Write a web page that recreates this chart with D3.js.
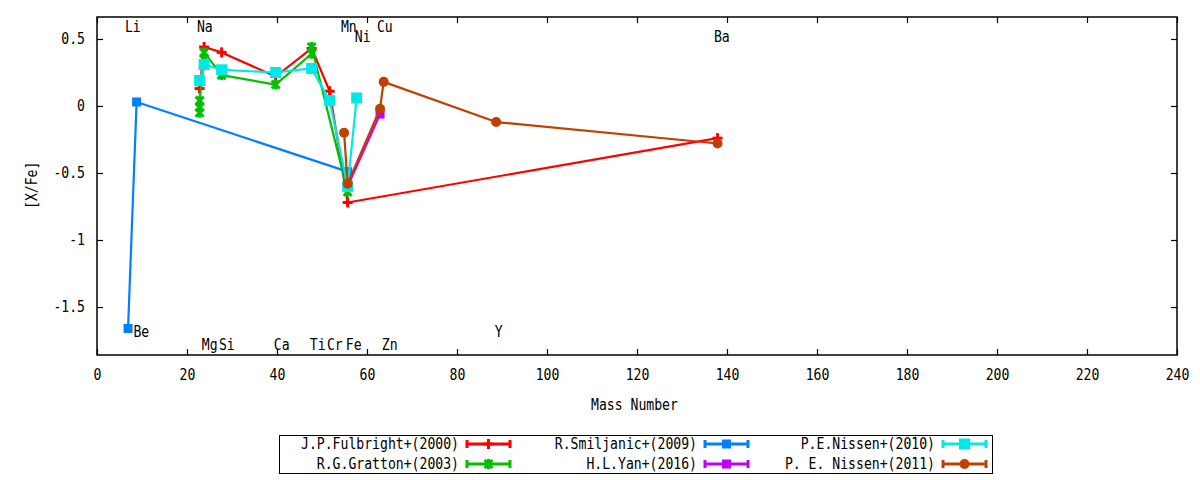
<!DOCTYPE html>
<html>
<head>
<meta charset="utf-8">
<script src="https://cdn.jsdelivr.net/npm/d3@7"></script>
<style>
  body { margin: 0; background: #fff; }
  svg text { font-family: "DejaVu Sans Mono", monospace; font-size: 15px; fill: #000; }
</style>
</head>
<body>
<div id="chart"></div>
<script>
// element masses and [X/Fe]
const fulbrightMass = [22.8, 23.8, 27.7, 39.7, 47.7, 51.7, 55.7, 137.9];
const fulbrightVal  = [0.13, 0.44, 0.40, 0.22, 0.43, 0.11, -0.72, -0.24];

const grattonMass = [22.8, 22.8, 22.8, 23.8, 23.8, 27.7, 39.7, 47.7, 47.7, 55.7];
const grattonVal  = [-0.05, -0.01, 0.04, 0.35, 0.40, 0.23, 0.16, 0.39, 0.44, -0.64];

const smiljanicMass = [6.9, 8.8, 55.7];
const smiljanicVal  = [-1.66, 0.03, -0.49];

const yanMass = [55.7, 62.9];
const yanVal  = [-0.60, -0.06];

const nissen10Mass = [22.8, 23.8, 27.7, 39.7, 47.7, 51.7, 55.7, 57.7];
const nissen10Val  = [0.19, 0.31, 0.27, 0.25, 0.28, 0.04, -0.60, 0.06];

const nissen11Mass = [54.9, 55.7, 62.9, 63.7, 88.7, 137.9];
const nissen11Val  = [-0.20, -0.58, -0.02, 0.18, -0.12, -0.28];

const seriesNames = ["J.P.Fulbright+(2000)", "R.G.Gratton+(2003)", "R.Smiljanic+(2009)",
                     "H.L.Yan+(2016)", "P.E.Nissen+(2010)", "P. E. Nissen+(2011)"];

const elemNames = ["Li", "Be", "Na", "Mg", "Si", "Ca", "Ti", "Cr", "Mn", "Fe", "Ni", "Cu", "Zn", "Y", "Ba"];
const elemX     = [6.2, 8.1, 22.2, 23.3, 27.1, 39.3, 47.3, 51.1, 54.2, 55.3, 57.3, 62.2, 63.3, 88.4, 137.1];
const elemY     = [0.59, -1.68, 0.59, -1.78, -1.78, -1.78, -1.78, -1.78, 0.59, -1.78, 0.515, 0.59, -1.78, -1.68, 0.515];

const xTicks = [0, 20, 40, 60, 80, 100, 120, 140, 160, 180, 200, 220, 240];
const yTicks = [0.5, 0, -0.5, -1, -1.5];

const series = [
  { name: seriesNames[0], xs: fulbrightMass, ys: fulbrightVal, color: "#ff0000", mark: "plus" },
  { name: seriesNames[1], xs: grattonMass,   ys: grattonVal,   color: "#00c000", mark: "cross" },
  { name: seriesNames[2], xs: smiljanicMass, ys: smiljanicVal, color: "#0080ff", mark: "square" },
  { name: seriesNames[3], xs: yanMass,       ys: yanVal,       color: "#c000ff", mark: "square" },
  { name: seriesNames[4], xs: nissen10Mass,  ys: nissen10Val,  color: "#00e8e8", mark: "bigsquare" },
  { name: seriesNames[5], xs: nissen11Mass,  ys: nissen11Val,  color: "#c04000", mark: "circle" }
];

const W = 1200, H = 480;
const margin = { top: 17, right: 23, bottom: 125, left: 97 };
const pw = W - margin.left - margin.right;
const ph = H - margin.top - margin.bottom;
const charW = 7.9;

// narrow the mono font a bit, like the original terminal font
function squeeze(sel) {
  sel.each(function () {
    const n = this.textContent.length;
    if (n) {
      this.setAttribute("textLength", n * charW);
      this.setAttribute("lengthAdjust", "spacingAndGlyphs");
    }
  });
}

const svg = d3.select("#chart").append("svg")
  .attr("width", W).attr("height", H);

const g = svg.append("g")
  .attr("transform", `translate(${margin.left},${margin.top})`);

const x = d3.scaleLinear().domain([0, 240]).range([0, pw]);
const y = d3.scaleLinear().domain([-1.858, 0.664]).range([ph, 0]);

// axes with inward ticks, mirrored on top/right
const tickLen = 6;
g.append("g").attr("transform", `translate(0,${ph})`)
  .call(d3.axisBottom(x).tickValues(xTicks).tickSizeInner(-tickLen).tickSizeOuter(0).tickPadding(14).tickFormat(d3.format("d")))
  .call(a => a.select(".domain").remove());
g.append("g")
  .call(d3.axisTop(x).tickValues(xTicks).tickSizeInner(-tickLen).tickSizeOuter(0).tickFormat(""))
  .call(a => a.select(".domain").remove());
g.append("g")
  .call(d3.axisLeft(y).tickValues(yTicks).tickSizeInner(-tickLen).tickSizeOuter(0).tickPadding(12).tickFormat(d => String(d)))
  .call(a => a.select(".domain").remove());
g.append("g").attr("transform", `translate(${pw},0)`)
  .call(d3.axisRight(y).tickValues(yTicks).tickSizeInner(-tickLen).tickSizeOuter(0).tickFormat(""))
  .call(a => a.select(".domain").remove());
g.selectAll(".tick line").attr("stroke", "#000").attr("stroke-width", 1.2);
g.selectAll(".tick text").style("font-family", "DejaVu Sans Mono, monospace").style("font-size", "15px");

g.append("rect").attr("width", pw).attr("height", ph)
  .attr("fill", "none").attr("stroke", "#000").attr("stroke-width", 1.5);

svg.append("text").attr("x", 591).attr("y", 410)
  .text("Mass Number");
svg.append("text").attr("transform", `translate(37,209) rotate(-90)`)
  .text("[X/Fe]");

// element labels
g.selectAll("text.elem").data(elemNames).enter().append("text")
  .attr("class", "elem")
  .attr("x", (d, i) => x(elemX[i]))
  .attr("y", (d, i) => y(elemY[i]))
  .attr("dy", "0.36em")
  .text(d => d);

function drawMark(sel, kind, color) {
  if (kind === "plus") {
    sel.append("rect").attr("x", -5).attr("y", -1.5).attr("width", 10).attr("height", 3).attr("fill", color);
    sel.append("rect").attr("x", -1.5).attr("y", -5).attr("width", 3).attr("height", 10).attr("fill", color);
  } else if (kind === "cross") {
    sel.append("path").attr("d", "M-4,-4L4,4M-4,4L4,-4").attr("stroke", color).attr("stroke-width", 3);
    sel.append("rect").attr("x", -1.5).attr("y", -5).attr("width", 3).attr("height", 10).attr("fill", color);
  } else if (kind === "square") {
    sel.append("rect").attr("x", -4.5).attr("y", -4.5).attr("width", 9).attr("height", 9).attr("fill", color);
  } else if (kind === "bigsquare") {
    sel.append("rect").attr("x", -5.5).attr("y", -5.5).attr("width", 11).attr("height", 11).attr("fill", color);
  } else {
    sel.append("circle").attr("r", 5).attr("fill", color);
  }
}

const line = d3.line().x(d => x(d[0])).y(d => y(d[1]));

series.forEach(s => {
  const pts = s.xs.map((m, i) => [m, s.ys[i]]);
  const layer = g.append("g");
  layer.append("path").datum(pts).attr("d", line)
    .attr("fill", "none").attr("stroke", s.color).attr("stroke-width", 2.2)
    .attr("stroke-linejoin", "round");
  layer.selectAll("g.pt").data(pts).enter().append("g")
    .attr("class", "pt")
    .attr("transform", d => `translate(${x(d[0])},${y(d[1])})`)
    .each(function () { drawMark(d3.select(this), s.mark, s.color); });
});

// legend: three columns, two rows
const legend = svg.append("g");
legend.append("rect").attr("x", 279.5).attr("y", 435.5).attr("width", 713).attr("height", 38)
  .attr("fill", "#fff").attr("stroke", "#000").attr("stroke-width", 1);
const colRight = [459, 697, 935];
const rowY = [444, 464];
series.forEach((s, i) => {
  const c = Math.floor(i / 2), r = i % 2;
  const tx = colRight[c], ty = rowY[r];
  const e = legend.append("g");
  e.append("text").attr("x", tx - s.name.length * charW).attr("y", ty).attr("dy", "0.36em")
    .text(s.name);
  const x0 = tx + 8, x1 = tx + 51;
  e.append("line").attr("x1", x0).attr("x2", x1).attr("y1", ty).attr("y2", ty)
    .attr("stroke", s.color).attr("stroke-width", 3);
  [x0, x1].forEach(xx => e.append("line").attr("x1", xx).attr("x2", xx)
    .attr("y1", ty - 4).attr("y2", ty + 4).attr("stroke", s.color).attr("stroke-width", 3));
  const m = e.append("g").attr("transform", `translate(${(x0 + x1) / 2},${ty})`);
  drawMark(m, s.mark, s.color);
});

// tick labels are anchored by d3; shift them so the squeezed text keeps its anchor
g.selectAll(".tick text").each(function () {
  const t = d3.select(this);
  const n = this.textContent.length;
  const anchor = t.attr("text-anchor") || this.parentNode.parentNode.getAttribute("text-anchor");
  const x0 = +t.attr("x") || 0;
  const w = n * charW;
  if (anchor === "middle") t.attr("x", x0 - w / 2);
  else if (anchor === "end") t.attr("x", x0 - w);
  t.attr("text-anchor", "start");
});
squeeze(svg.selectAll("text"));
</script>
</body>
</html>
